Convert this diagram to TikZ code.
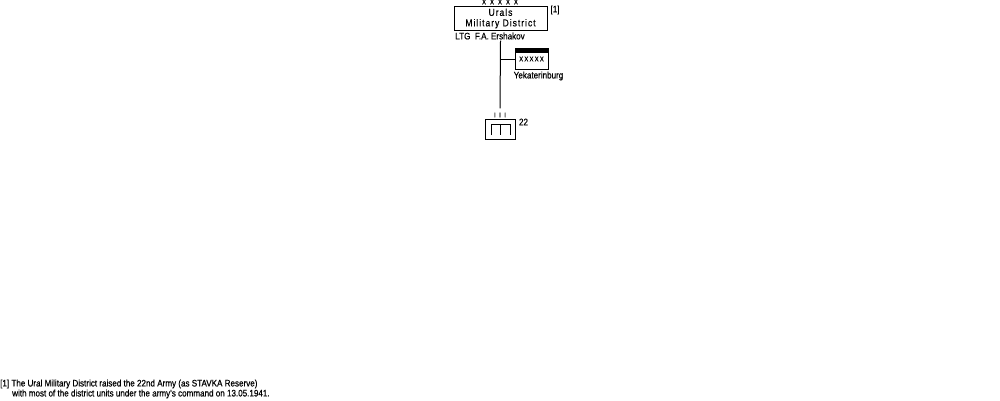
\documentclass[tikz,border=0pt]{standalone}
\usepackage{fontspec}
\setmainfont{Liberation Sans}[FakeStretch=0.85, FakeBold=0.5]
\usepackage{tikz}
\usetikzlibrary{positioning,calc}

\begin{document}
\begin{tikzpicture}[x=1pt,y=-1pt,
  unit/.style={rectangle, draw=black, line width=1pt, inner sep=0pt, font=\fontsize{10}{11}\selectfont\addfontfeature{LetterSpace=10}, align=center},
  lbl/.style={inner sep=0pt, font=\fontsize{9.5}{10.5}\selectfont},
  size/.style={inner sep=0pt, font=\fontsize{7}{7}\selectfont},
  note/.style={inner sep=0pt, anchor=west, font=\fontsize{9.5}{10.5}\selectfont},
  link/.style={draw=black, line width=1pt}
]
  \useasboundingbox (0,0) rectangle (1000,400);

  % District
  \node[unit, minimum width=93, minimum height=24] (msd) at (500.5,18.5) {Urals\\[-0.5pt]Military District};
  \node[size] (msdlvl) at (500,2) {X\hspace{4pt}X\hspace{4pt}X\hspace{4pt}X\hspace{4pt}X};
  \node[lbl] (ref) at (555,10) {[1]};
  \node[lbl] (cmd) at (490,36) {LTG\ \ F.A. Ershakov};

  % HQ
  \node[unit, minimum width=33, minimum height=21, font=\fontsize{7}{7}\selectfont,
    path picture={\fill (path picture bounding box.north west) rectangle ([yshift=-4pt]path picture bounding box.north east);}]
    (hq) at (531.5,59) {\raisebox{-1.5pt}{X\hspace{1.2pt}X\hspace{1.2pt}X\hspace{1.2pt}X\hspace{1.2pt}X}};
  \node[lbl] (hqname) at (538.5,76) {Yekaterinburg};

  % Army
  \node[size] (armylvl) at (500,115) {I\hspace{3.5pt}I\hspace{3.5pt}I};
  \node[unit, minimum width=30, minimum height=20,
    path picture={\draw[line width=1pt] ($(path picture bounding box.center)+(-9,6)$) |- ($(path picture bounding box.center)+(10,-5)$) -- ++(0,11)
      ($(path picture bounding box.center)+(0,-5)$) -- ++(0,11);}]
    (army) at (500,129) {};
  \node[lbl] (armyno) at (523.5,122) {22};

  % Links
  \draw[link] ([yshift=-1pt]cmd.south -| msd.south) -- ([yshift=4pt]armylvl.north);
  \draw[link] (hq.west) -- (hq.west -| msd.south);

  % Footnote
  \node[note] (fn1) at (0,384) {[1] The Ural Military District raised the 22nd Army (as STAVKA Reserve)};
  \node[note] (fn2) at (12,394) {with most of the district units under the army's command on 13.05.1941.};
\end{tikzpicture}
\end{document}
